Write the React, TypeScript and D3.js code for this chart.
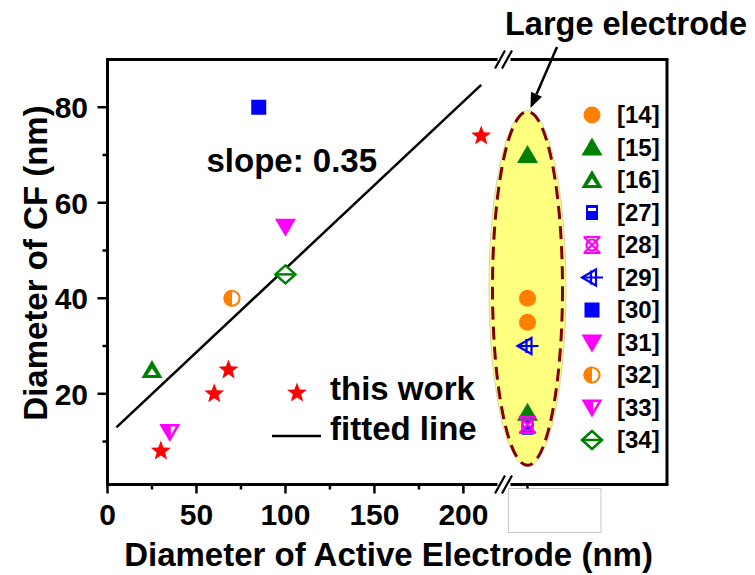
import * as d3 from 'd3'

const FONT = '"Liberation Sans", Arial, Helvetica, sans-serif'

// this work
const workX = [30, 60, 68, 210]
const workY = [8, 20, 25, 74]

// literature, small electrodes
const litRef = ['[30]', '[31]', '[34]', '[32]', '[16]', '[33]']
const litX = [85, 100, 100, 70, 25, 35]
const litY = [80, 55, 45, 40, 25, 12]

// literature, large electrodes (drawn after the axis break)
const largeRef = ['[15]', '[14]', '[14]', '[29]', '[15]', '[27]', '[28]']
const largeY = [70, 40, 35, 30, 16, 13, 13.5]
const largeX = 10

const legendRefs = ['[14]', '[15]', '[16]', '[27]', '[28]', '[29]', '[30]', '[31]', '[32]', '[33]', '[34]']

const xMajor = [0, 50, 100, 150, 200]
const xMinor = [25, 75, 125, 175]
const yMajor = [20, 40, 60, 80]
const yMinor = [10, 30, 50, 70]

// fitted line y = a + b x
const fitA = 11.2
const fitB = 0.35
const fitRange = [5, 210]

// ellipse around the large electrode group (data units)
const ellTop = 79.3
const ellBottom = 4.8

const ORANGE = '#ff8000'
const GREEN = '#008000'
const BLUE = '#0000ff'
const MAG = '#ff00ff'
const RED = '#ff0000'

const W = 755
const H = 575
const left = 107.5
const top = 59.5
const right = 667
const bottom = 484.5
const breakL = 496
const breakR = 512

const x = d3.scaleLinear().domain([0, 220]).range([left, 499])
const xR = d3.scaleLinear().domain([0, 100]).range([breakR, right])
const y = d3.scaleLinear().domain([1, 90]).range([bottom, top])

function starPath(R: number, r: number) {
  const pts: [number, number][] = []
  for (let i = 0; i < 10; i++) {
    const rad = i % 2 === 0 ? R : r
    const a = -Math.PI / 2 + (i * Math.PI) / 5
    pts.push([rad * Math.cos(a), rad * Math.sin(a)])
  }
  return d3.line()(pts) + 'Z'
}

function Marker({ id, cx, cy }: { id: string; cx: number; cy: number }) {
  const t = `translate(${cx},${cy})`
  switch (id) {
    case '[14]':
      return <circle cx={cx} cy={cy} r={8.5} fill={ORANGE} />
    case '[15]':
      return <path transform={t} d="M0,-10L10.5,8L-10.5,8Z" fill={GREEN} />
    case '[16]':
      return (
        <g transform={t}>
          <path d="M0,-10L10.5,8L-10.5,8Z" fill={GREEN} />
          <path d="M0,-1.5L4.5,5L-4.5,5Z" fill="#fff" />
        </g>
      )
    case '[27]':
      return (
        <g transform={t}>
          <rect x={-6} y={-7.5} width={12} height={15} fill={BLUE} />
          <rect x={-4} y={-4.5} width={8} height={3} fill="#fff" />
        </g>
      )
    case '[28]':
      return (
        <g transform={t} fill="none" stroke={MAG} strokeWidth={2.2}>
          <circle r={5.5} />
          <path d="M-8,-8L8,8M8,-8L-8,8M-8.5,-8L8.5,-8M-8.5,8L8.5,8" />
        </g>
      )
    case '[29]':
      return (
        <g transform={t} fill="none" stroke={BLUE} strokeWidth={2.2}>
          <path d="M-10,0L4,-8L4,8Z" />
          <path d="M-10,0L11,0M-1,-7L-1,7" />
        </g>
      )
    case '[30]':
      return <rect x={cx - 7.5} y={cy - 7.5} width={15} height={15} fill={BLUE} />
    case '[31]':
      return <path transform={t} d="M0,10L10.5,-8L-10.5,-8Z" fill={MAG} />
    case '[32]':
      return (
        <g transform={t}>
          <circle r={7.5} fill="#fff" stroke={ORANGE} strokeWidth={2.2} />
          <path d="M0,-8.5A8.5,8.5 0 0 0 0,8.5Z" fill={ORANGE} />
        </g>
      )
    case '[33]':
      return (
        <g transform={t}>
          <path d="M0,10L10.5,-8L-10.5,-8Z" fill={MAG} />
          <path d="M1,-5.5L6,-5.5L1,3.5Z" fill="#fff" />
        </g>
      )
    case '[34]':
      return (
        <g transform={t} fill="#fff" stroke={GREEN} strokeWidth={2.5}>
          <path d="M0,-9L10,0L0,9L-10,0Z" />
          <path d="M-10,0L10,0" fill="none" />
        </g>
      )
    default:
      return null
  }
}

const STAR = starPath(10.5, 4.4)

export default function App() {
  const fitPts: [number, number][] = fitRange.map((v) => [x(v), y(fitA + fitB * v)])
  const ecx = xR(largeX)
  const ecy = (y(ellTop) + y(ellBottom)) / 2
  const ery = (y(ellBottom) - y(ellTop)) / 2
  const erx = 38.5

  // arrow
  const ax0 = 557, ay0 = 47
  const ax1 = 530.5, ay1 = 108
  const ang = Math.atan2(ay1 - ay0, ax1 - ax0)
  const hl = 15, hw = 6
  const bx = ax1 - hl * Math.cos(ang), by = ay1 - hl * Math.sin(ang)
  const head = `M${ax1},${ay1}L${bx + hw * Math.sin(ang)},${by - hw * Math.cos(ang)}L${bx - hw * Math.sin(ang)},${by + hw * Math.cos(ang)}Z`

  const slash = (sx: number, sy: number) => `M${sx - 5},${sy + 9}L${sx + 5},${sy - 9}`

  return (
    <svg width={W} height={H} style={{ position: 'absolute', left: 0, top: 0, background: '#fff' }} fontFamily={FONT}>
      {/* ellipse */}
      <ellipse cx={ecx} cy={ecy} rx={erx} ry={ery} fill="#ffff80" stroke="#c8c8a0" strokeWidth={0.8} />
      <ellipse cx={ecx} cy={ecy} rx={erx - 3.5} ry={ery - 1} fill="none" stroke="#800000" strokeWidth={3} strokeDasharray="13 7" />

      {/* frame */}
      <g stroke="#000" strokeWidth={3} fill="none" strokeLinecap="square">
        <path d={`M${breakL},${top}L${left},${top}L${left},${bottom}L${breakL},${bottom}`} />
        <path d={`M${breakR},${top}L${right},${top}L${right},${bottom}L${breakR},${bottom}`} />
      </g>
      <g stroke="#000" strokeWidth={2.2}>
        <path d={slash(500, top) + slash(507, top)} />
        <path d={slash(500, bottom) + slash(507, bottom)} />
      </g>
      <rect x={508.5} y={488.5} width={92.5} height={44} fill="#fff" stroke="#c8c8c8" strokeWidth={1} />

      {/* ticks */}
      <g stroke="#000" strokeWidth={2.5}>
        {xMajor.map((v) => <line key={'xM' + v} x1={x(v)} x2={x(v)} y1={bottom} y2={bottom + 9} />)}
        {xMinor.map((v) => <line key={'xm' + v} x1={x(v)} x2={x(v)} y1={bottom} y2={bottom + 5} />)}
        {yMajor.map((v) => <line key={'yM' + v} x1={left} x2={left - 10} y1={y(v)} y2={y(v)} />)}
        {yMinor.map((v) => <line key={'ym' + v} x1={left} x2={left - 5} y1={y(v)} y2={y(v)} />)}
        <line x1={xR(largeX)} x2={xR(largeX)} y1={bottom} y2={bottom + 4} />
      </g>
      <g fontSize={30} fontWeight="bold" fill="#000">
        {xMajor.map((v) => (
          <text key={'xl' + v} x={x(v)} y={525} textAnchor="middle">{v}</text>
        ))}
        {yMajor.map((v) => (
          <text key={'yl' + v} x={88} y={y(v) + 11} textAnchor="end">{v}</text>
        ))}
      </g>

      {/* axis titles */}
      <text x={388.5} y={566} textAnchor="middle" fontSize={33} fontWeight="bold">
        Diameter of Active Electrode (nm)
      </text>
      <text transform={`translate(47,263) rotate(-90)`} textAnchor="middle" fontSize={33} fontWeight="bold">
        Diameter of CF (nm)
      </text>

      {/* fitted line */}
      <path d={d3.line()(fitPts) ?? ''} stroke="#000" strokeWidth={2.5} fill="none" />
      <text x={206.5} y={171.5} fontSize={33} fontWeight="bold">slope: 0.35</text>

      {/* literature points */}
      {litRef.map((r, i) => <Marker key={'lit' + i} id={r} cx={x(litX[i])} cy={y(litY[i])} />)}
      {largeRef.map((r, i) => <Marker key={'lg' + i} id={r} cx={xR(largeX)} cy={y(largeY[i])} />)}

      {/* this work */}
      {workX.map((v, i) => (
        <path key={'w' + i} transform={`translate(${x(v)},${y(workY[i])})`} d={STAR} fill={RED} />
      ))}

      {/* inner legend */}
      <path transform="translate(297,393)" d={STAR} fill={RED} />
      <text x={330} y={400} fontSize={33} fontWeight="bold">this work</text>
      <line x1={272} x2={321} y1={436} y2={436} stroke="#000" strokeWidth={2.5} />
      <text x={330} y={440} fontSize={33} fontWeight="bold">fitted line</text>

      {/* reference legend */}
      {legendRefs.map((r, i) => {
        const cy = 115 + i * 32.5
        return (
          <g key={'leg' + r}>
            <Marker id={r} cx={592} cy={cy} />
            <text x={617} y={cy + 8} fontSize={24} fontWeight="bold">{r}</text>
          </g>
        )
      })}

      {/* annotation */}
      <text x={505} y={35} fontSize={32.5} fontWeight="bold">Large electrode</text>
      <line x1={ax0} y1={ay0} x2={bx} y2={by} stroke="#000" strokeWidth={2.5} />
      <path d={head} fill="#000" />
    </svg>
  )
}
